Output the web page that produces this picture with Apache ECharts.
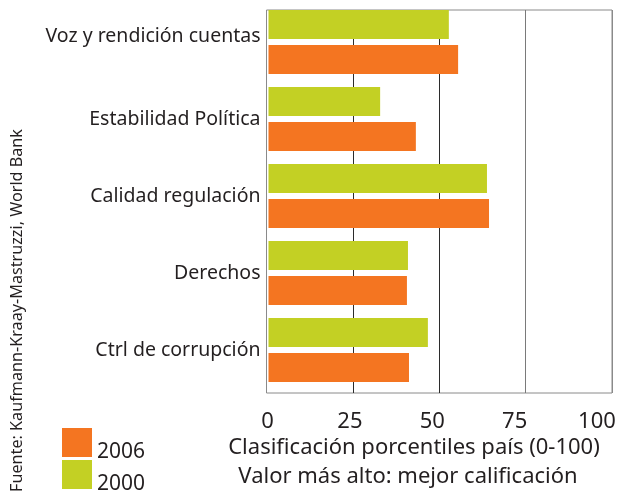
<!DOCTYPE html>
<html>
<head>
<meta charset="utf-8">
<script src="https://cdn.jsdelivr.net/npm/echarts@6/dist/echarts.min.js"></script>
<style>
	html, body { margin: 0; padding: 0; background: #fff; }
	#main { width: 623px; height: 492px; }
</style>
</head>
<body>
<div id="main"></div>
<script>
// data
const categories = ['Voz y rendición cuentas', 'Estabilidad Política', 'Calidad regulación', 'Derechos', 'Ctrl de corrupción'];
const values2000 = [52.5, 32.5, 63.6, 40.6, 46.4];
const values2006 = [55.2, 42.9, 64.2, 40.3, 40.9];
const seriesNames = ['2006', '2000'];
const xMin = 0;
const xMax = 100;
const xStep = 25;

const font = 'Noto Sans';
const ink = '#231f20';
const green = '#c3d024';
const orange = '#f47521';

const myChart = echarts.init(document.getElementById('main'));

// one legend per entry so they stack without wrapping
const legendTops = [422, 454];
const legends = seriesNames.map((name, i) => ({
	data: [name],
	left: 62,
	top: legendTops[i],
	padding: 0,
	icon: 'rect',
	itemWidth: 30,
	itemHeight: 29,
	selectedMode: false,
	// empty first line pushes the label down, as in the original
	formatter: (n) => '\n' + n,
	textStyle: { fontFamily: font, fontSize: 21, color: ink, lineHeight: 20 }
}));

const option = {
	animation: false,
	legend: legends,
	grid: [
		// bars
		{ left: 268.5, top: 3.5, width: 343.5, height: 385 },
		// frame and vertical lines
		{ left: 266.5, top: 10, width: 345.5, height: 383, show: true, borderColor: '#8a8a8a', borderWidth: 1 },
		// tick labels
		{ left: 267.5, top: 10, width: 329.5, height: 383 }
	],
	xAxis: [
		{ gridIndex: 0, type: 'value', min: xMin, max: xMax, show: false },
		{
			gridIndex: 1, type: 'value', min: xMin, max: xMax, interval: xStep,
			axisLabel: { show: false }, axisLine: { show: false }, axisTick: { show: false },
			splitLine: { show: true, lineStyle: { color: ['#8a8a8a', '#2b2b2b', '#2b2b2b', '#7a7a7a', '#8a8a8a'], width: 1 } }
		},
		{
			gridIndex: 2, type: 'value', min: xMin, max: xMax, interval: xStep,
			axisLine: { show: false }, axisTick: { show: false }, splitLine: { show: false },
			axisLabel: { fontFamily: font, fontSize: 22, color: ink, margin: 18 }
		}
	],
	yAxis: [
		{
			gridIndex: 0, type: 'category', data: categories, inverse: true,
			axisLine: { show: false }, axisTick: { show: false },
			axisLabel: {
				fontFamily: font, fontSize: 19.5, color: ink, margin: 8,
				formatter: (v, i) => (i === 0 ? '{up|' + v + '}' : v),
				rich: { up: { fontFamily: font, fontSize: 19.5, color: ink, padding: [0, 0, 12, 0] } }
			}
		},
		{ gridIndex: 1, type: 'value', show: false },
		{ gridIndex: 2, type: 'value', show: false }
	],
	graphic: [
		{
			type: 'text', x: 414, y: 448,
			style: { text: 'Clasificación porcentiles país (0-100)', fontFamily: font, fontSize: 22, fill: ink, align: 'center', verticalAlign: 'middle' }
		},
		{
			type: 'text', x: 408, y: 477,
			style: { text: 'Valor más alto: mejor calificación', fontFamily: font, fontSize: 22, fill: ink, align: 'center', verticalAlign: 'middle' }
		},
		{
			type: 'text', x: 25, y: 129, rotation: Math.PI / 2,
			style: { text: 'Fuente: Kaufmann-Kraay-Mastruzzi, World Bank', fontFamily: font, fontSize: 16.2, fill: ink, align: 'right', verticalAlign: 'bottom' }
		}
	],
	series: [
		{
			name: '2000', type: 'bar', xAxisIndex: 0, yAxisIndex: 0,
			data: values2000, barWidth: 29, barGap: '21%',
			itemStyle: { color: green }
		},
		{
			name: '2006', type: 'bar', xAxisIndex: 0, yAxisIndex: 0,
			data: values2006, barWidth: 29, barGap: '21%',
			itemStyle: { color: orange }
		}
	]
};

myChart.setOption(option);
</script>
</body>
</html>
